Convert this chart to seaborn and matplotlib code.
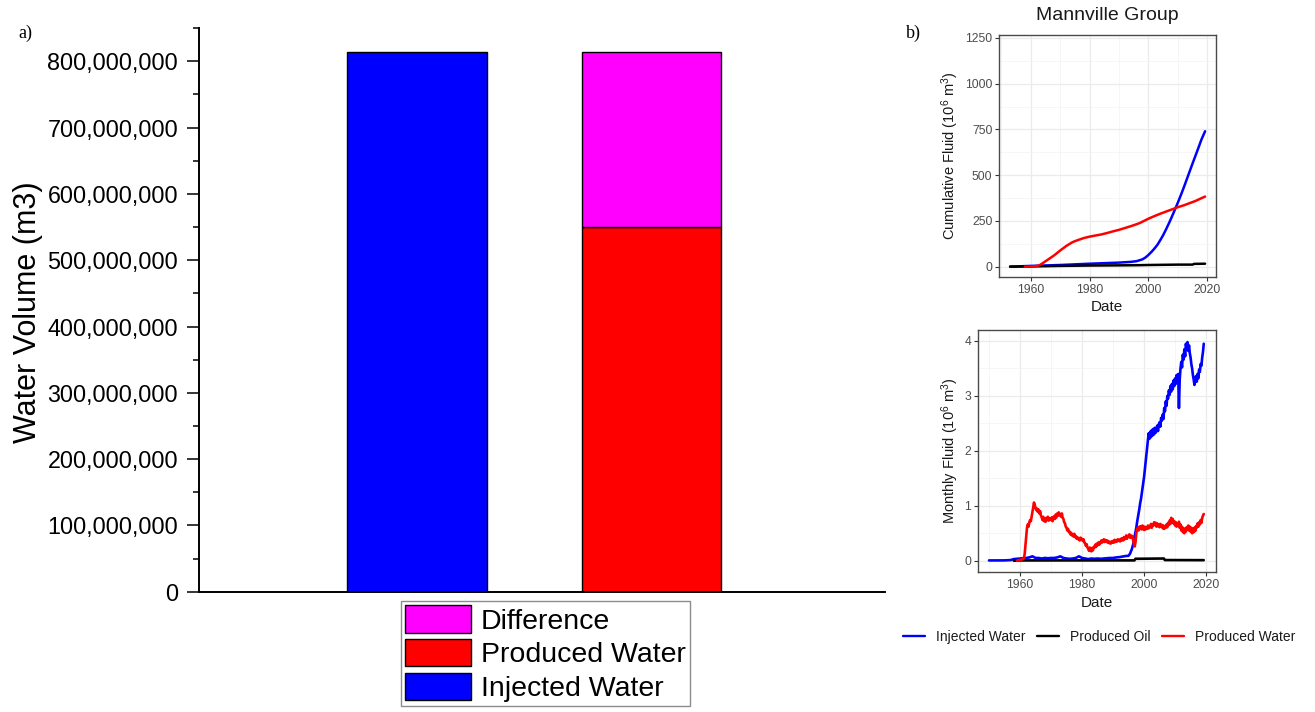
import numpy as np
import pandas as pd
import matplotlib
matplotlib.use("Agg")
import matplotlib.pyplot as plt
import seaborn as sns
from matplotlib.patches import Patch
from matplotlib.lines import Line2D
from matplotlib.ticker import FuncFormatter, MultipleLocator

# ------------------------------------------------------------------
# a) total water volumes (m3)
# ------------------------------------------------------------------
bar_groups = ["Injected", "Produced"]
injected_total = 813_600_000
produced_water_total = 550_000_000
difference_total = 263_600_000
volume_legend = ["Difference", "Produced Water", "Injected Water"]

# ------------------------------------------------------------------
# b) Mannville Group, cumulative fluid (10^6 m3)
# ------------------------------------------------------------------
cum_inj_years = [1953, 1960, 1970, 1980, 1990, 1994, 1996, 1998, 1999, 2000,
                 2001, 2002, 2003, 2004, 2005, 2006, 2007, 2008, 2009, 2010,
                 2011, 2012, 2013, 2014, 2015, 2016, 2017, 2018, 2019.25]
cum_inj = [0, 4, 9, 16, 22, 26, 30, 40, 50, 64,
           80, 98, 118, 144, 172, 204, 238, 274, 312, 350,
           390, 432, 476, 520, 564, 607, 650, 694, 740]

cum_oil_years = [1953, 1960, 1970, 1980, 1990, 1997, 2000, 2005, 2010, 2015,
                 2015.5, 2019.25]
cum_oil = [0, 1, 4, 6, 7, 8, 9, 10, 11, 11, 15, 16]

cum_pw_years = [1958, 1960, 1962, 1963, 1964, 1965, 1966, 1968, 1970, 1972,
                1974, 1975, 1976, 1978, 1980, 1982, 1984, 1986, 1988, 1990,
                1992, 1994, 1996, 1997, 1998, 2000, 2002, 2004, 2006, 2008,
                2010, 2012, 2014, 2016, 2018, 2019.25]
cum_pw = [0, 1, 3, 8, 18, 29, 40, 62, 88, 112,
          132, 139, 145, 156, 164, 170, 176, 184, 193, 201,
          211, 221, 232, 238, 246, 262, 276, 289, 301, 313,
          325, 335, 347, 359, 374, 383]

# ------------------------------------------------------------------
# b) Mannville Group, monthly fluid (10^6 m3)
# ------------------------------------------------------------------
# injected water: yearly readings 1950-1994
inj_early = [0.005, 0.005, 0.005, 0.005, 0.005, 0.006, 0.008, 0.012, 0.03, 0.035,
             0.04, 0.045, 0.05, 0.06, 0.08, 0.05, 0.05, 0.04, 0.05, 0.045,
             0.05, 0.05, 0.06, 0.08, 0.05, 0.04, 0.035, 0.04, 0.05, 0.08,
             0.05, 0.04, 0.03, 0.04, 0.035, 0.04, 0.035, 0.04, 0.045, 0.05,
             0.05, 0.06, 0.065, 0.075, 0.085]
inj_early_start = 1950

# injected water: quarterly readings from 1995
inj_late = [0.09, 0.11, 0.13, 0.17,
            0.20, 0.25, 0.30, 0.38,
            0.45, 0.52, 0.60, 0.70,
            0.78, 0.86, 0.95, 1.05,
            1.12, 1.22, 1.32, 1.42,
            1.52, 1.66, 1.80, 1.95,
            2.08, 2.20, 2.32, 2.22,
            2.35, 2.25, 2.38, 2.28,
            2.40, 2.30, 2.42, 2.33,
            2.38, 2.46, 2.36, 2.48,
            2.52, 2.44, 2.60, 2.55,
            2.66, 2.58, 2.78, 2.72,
            2.90, 2.82, 3.00, 2.95,
            3.10, 3.02, 3.18, 3.08,
            3.22, 3.12, 3.28, 3.18,
            3.32, 3.22, 3.38, 3.28,
            3.40, 2.78, 3.30, 3.50,
            3.62, 3.52, 3.75, 3.66,
            3.85, 3.72, 3.95, 3.84,
            3.98, 3.82, 3.92, 3.78,
            3.70, 3.58, 3.50, 3.38,
            3.30, 3.20, 3.28, 3.36,
            3.26, 3.40, 3.32, 3.48,
            3.44, 3.58, 3.55, 3.70,
            3.80, 3.95]
inj_late_start = 1995

# produced oil
oil_years = [1958, 1960, 1996.9, 1997.2, 2006.4, 2006.7, 2019.25]
oil_monthly = [0.0, 0.005, 0.006, 0.035, 0.04, 0.012, 0.01]

# produced water: quarterly readings from 1959
pw_monthly = [0.00, 0.00, 0.01, 0.01,
              0.01, 0.02, 0.02, 0.03,
              0.03, 0.05, 0.12, 0.28,
              0.45, 0.60, 0.66, 0.62,
              0.70, 0.74, 0.72, 0.80,
              0.88, 0.97, 1.06, 1.02,
              0.96, 0.92, 0.95, 0.89,
              0.93, 0.86, 0.90, 0.82,
              0.79, 0.74, 0.80, 0.72,
              0.76, 0.71, 0.78, 0.74,
              0.80, 0.73, 0.77, 0.75,
              0.74, 0.79, 0.72, 0.78,
              0.81, 0.76, 0.84, 0.79,
              0.86, 0.82, 0.88, 0.83,
              0.85, 0.80, 0.86, 0.78,
              0.76, 0.70, 0.68, 0.62,
              0.60, 0.55, 0.58, 0.52,
              0.53, 0.48, 0.51, 0.46,
              0.47, 0.44, 0.49, 0.43,
              0.45, 0.40, 0.43, 0.39,
              0.41, 0.37, 0.42, 0.38,
              0.40, 0.36, 0.39, 0.33,
              0.32, 0.27, 0.30, 0.24,
              0.22, 0.18, 0.24, 0.20,
              0.17, 0.23, 0.19, 0.25,
              0.24, 0.29, 0.25, 0.31,
              0.28, 0.33, 0.29, 0.34,
              0.32, 0.37, 0.33, 0.36,
              0.39, 0.34, 0.38, 0.35,
              0.37, 0.33, 0.36, 0.32,
              0.34, 0.31, 0.35, 0.33,
              0.36, 0.33, 0.38, 0.34,
              0.37, 0.35, 0.39, 0.36,
              0.38, 0.35, 0.40, 0.37,
              0.41, 0.37, 0.43, 0.39,
              0.42, 0.46, 0.40, 0.45,
              0.44, 0.48, 0.42, 0.46,
              0.42, 0.45, 0.38, 0.30,
              0.26, 0.34, 0.50, 0.57,
              0.60, 0.55, 0.62, 0.58,
              0.63, 0.57, 0.64, 0.59,
              0.56, 0.62, 0.57, 0.61,
              0.58, 0.64, 0.59, 0.63,
              0.61, 0.67, 0.60, 0.66,
              0.64, 0.70, 0.65, 0.69,
              0.62, 0.68, 0.63, 0.66,
              0.61, 0.67, 0.62, 0.65,
              0.59, 0.64, 0.58, 0.62,
              0.60, 0.66, 0.61, 0.69,
              0.65, 0.73, 0.67, 0.78,
              0.70, 0.76, 0.68, 0.72,
              0.64, 0.70, 0.62, 0.68,
              0.65, 0.71, 0.60, 0.66,
              0.55, 0.62, 0.52, 0.59,
              0.50, 0.58, 0.53, 0.61,
              0.57, 0.64, 0.55, 0.62,
              0.53, 0.60, 0.50, 0.58,
              0.52, 0.60, 0.54, 0.63,
              0.60, 0.68, 0.62, 0.70,
              0.66, 0.74, 0.69, 0.78,
              0.82, 0.85]
pw_start = 1959

series_names = ["Injected Water", "Produced Oil", "Produced Water"]
series_colors = {"Injected Water": "#0000FF",
                 "Produced Oil": "#000000",
                 "Produced Water": "#FF0000"}

# ------------------------------------------------------------------
# tidy frames
# ------------------------------------------------------------------
cum_df = pd.concat([
    pd.DataFrame({"Date": cum_inj_years, "Fluid": cum_inj, "Series": "Injected Water"}),
    pd.DataFrame({"Date": cum_oil_years, "Fluid": cum_oil, "Series": "Produced Oil"}),
    pd.DataFrame({"Date": cum_pw_years, "Fluid": cum_pw, "Series": "Produced Water"}),
], ignore_index=True)

inj_dates = list(inj_early_start + np.arange(len(inj_early))) + \
    list(inj_late_start + 0.25 * np.arange(len(inj_late)))
pw_dates = list(pw_start + 0.25 * np.arange(len(pw_monthly)))
mon_df = pd.concat([
    pd.DataFrame({"Date": inj_dates, "Fluid": inj_early + inj_late, "Series": "Injected Water"}),
    pd.DataFrame({"Date": oil_years, "Fluid": oil_monthly, "Series": "Produced Oil"}),
    pd.DataFrame({"Date": pw_dates, "Fluid": pw_monthly, "Series": "Produced Water"}),
], ignore_index=True)

# ------------------------------------------------------------------
# figure
# ------------------------------------------------------------------
sns.set_style("white")
plt.rcParams["font.family"] = ["Liberation Sans", "DejaVu Sans"]
plt.rcParams["mathtext.fontset"] = "custom"
plt.rcParams["mathtext.rm"] = "Liberation Sans"
plt.rcParams["mathtext.it"] = "Liberation Sans:italic"
plt.rcParams["text.color"] = "black"
plt.rcParams["legend.labelcolor"] = "black"

W, H = 1315, 712
fig = plt.figure(figsize=(W / 100, H / 100), dpi=100)


def frac_box(x0, y0, x1, y1):
    """pixel box (left, top, right, bottom) -> figure fraction rect"""
    return [x0 / W, 1 - y1 / H, (x1 - x0) / W, (y1 - y0) / H]


# ---------------- panel a ----------------
ax_a = fig.add_axes(frac_box(199, 27.7, 885, 591.7))
pos = np.arange(len(bar_groups))
bar_w = 0.597
ax_a.bar(pos[0], injected_total, width=bar_w, color="#0000FF",
         edgecolor="black", linewidth=1.0, zorder=2)
ax_a.bar(pos[1], produced_water_total, width=bar_w, color="#FF0000",
         edgecolor="black", linewidth=1.0, zorder=2)
ax_a.bar(pos[1], difference_total, bottom=produced_water_total, width=bar_w,
         color="#FF00FF", edgecolor="black", linewidth=1.0, zorder=2)
ax_a.set_xlim(-0.93, 1.996)
ax_a.set_ylim(0, 850_700_000)
ax_a.yaxis.set_major_locator(MultipleLocator(100_000_000))
ax_a.yaxis.set_minor_locator(MultipleLocator(50_000_000))
ax_a.yaxis.set_major_formatter(FuncFormatter(lambda v, p: f"{int(round(v)):,}"))
ax_a.set_xticks([])
for s in ("top", "right"):
    ax_a.spines[s].set_visible(False)
for s in ("left", "bottom"):
    ax_a.spines[s].set_color("black")
    ax_a.spines[s].set_linewidth(1.4)
ax_a.tick_params(axis="y", which="major", direction="out", length=8.6, width=1.1,
                 labelsize=16.8, pad=6.5, colors="black", left=True)
ax_a.tick_params(axis="y", which="minor", direction="out", length=4.3, width=1.1,
                 colors="black", left=True)
fig.text(28 / W, 1 - 312 / H, "Water Volume (m3)", rotation=90, ha="center",
         va="center", fontsize=22, color="black")

legend_handles = [Patch(facecolor="#FF00FF", edgecolor="black", linewidth=1.0),
                  Patch(facecolor="#FF0000", edgecolor="black", linewidth=1.0),
                  Patch(facecolor="#0000FF", edgecolor="black", linewidth=1.0)]
leg_a = ax_a.legend(legend_handles, volume_legend, loc="upper left",
                    bbox_to_anchor=(401 / W, 1 - 601 / H),
                    bbox_transform=fig.transFigure, fontsize=20.5,
                    fancybox=False, framealpha=1, edgecolor="#8c8c8c",
                    handlelength=2.3, handleheight=1.1, labelspacing=0.15,
                    borderpad=0.15, handletextpad=0.35, borderaxespad=0)
leg_a.get_frame().set_linewidth(1.0)

fig.text(18 / W, 1 - 33 / H, "a)", family=["Liberation Serif"], fontsize=13,
         ha="left", va="center")
fig.text(906 / W, 1 - 33 / H, "b)", family=["Liberation Serif"], fontsize=13,
         ha="left", va="center")


# ---------------- panel b helpers ----------------
def bw_axes(ax, xlim, ylim, xmaj, ymaj):
    ax.set_xlim(*xlim)
    ax.set_ylim(*ylim)
    ax.xaxis.set_major_locator(MultipleLocator(xmaj))
    ax.xaxis.set_minor_locator(MultipleLocator(xmaj / 2))
    ax.yaxis.set_major_locator(MultipleLocator(ymaj))
    ax.yaxis.set_minor_locator(MultipleLocator(ymaj / 2))
    ax.grid(True, which="major", color="#EBEBEB", linewidth=0.9)
    ax.grid(True, which="minor", color="#F3F3F3", linewidth=0.5)
    ax.set_axisbelow(True)
    for s in ax.spines.values():
        s.set_visible(True)
        s.set_color("#4a4a4a")
        s.set_linewidth(1.0)
    ax.tick_params(axis="both", which="major", direction="out", length=3,
                   width=0.8, color="#333333", labelcolor="#4D4D4D",
                   labelsize=8.7, pad=2, bottom=True, left=True)
    ax.tick_params(axis="both", which="minor", length=0)
    ax.set_xlabel("")
    ax.set_ylabel("")
    leg = ax.get_legend()
    if leg is not None:
        leg.remove()


# ---------------- cumulative ----------------
ax_c = fig.add_axes(frac_box(999.3, 35, 1216, 276.7))
sns.lineplot(data=cum_df, x="Date", y="Fluid", hue="Series",
             hue_order=series_names, palette=series_colors, linewidth=1.8,
             ax=ax_c, sort=False, estimator=None)
bw_axes(ax_c, (1949.33, 2022.96), (-55, 1266), 20, 250)
fig.text(1107 / W, 1 - 16 / H, "Mannville Group", ha="center", va="center",
         fontsize=14, color="#1a1a1a")
fig.text(950 / W, 1 - 156 / H, "Cumulative Fluid (10$^{6}$ m$^{3}$)",
         rotation=90, ha="center", va="center", fontsize=10.5, color="#1a1a1a")
fig.text(1107 / W, 1 - 307 / H, "Date", ha="center", va="center",
         fontsize=11, color="#1a1a1a")

# ---------------- monthly ----------------
ax_m = fig.add_axes(frac_box(978.3, 330, 1216, 571.7))
sns.lineplot(data=mon_df, x="Date", y="Fluid", hue="Series",
             hue_order=series_names, palette=series_colors, linewidth=1.9,
             ax=ax_m, sort=False, estimator=None)
bw_axes(ax_m, (1946.55, 2023.2), (-0.2, 4.2), 20, 1)
fig.text(950 / W, 1 - 451 / H, "Monthly Fluid (10$^{6}$ m$^{3}$)",
         rotation=90, ha="center", va="center", fontsize=10.5, color="#1a1a1a")
fig.text(1097 / W, 1 - 603 / H, "Date", ha="center", va="center",
         fontsize=11, color="#1a1a1a")

line_handles = [Line2D([], [], color=series_colors[n], linewidth=1.7)
                for n in series_names]
fig.legend(line_handles, series_names, loc="center", ncol=3,
           bbox_to_anchor=(1099 / W, 1 - 637 / H), frameon=False,
           fontsize=10, handlelength=1.6, handletextpad=0.8,
           columnspacing=0.8, labelcolor="#1a1a1a")

fig.savefig("out.png", dpi=100)
